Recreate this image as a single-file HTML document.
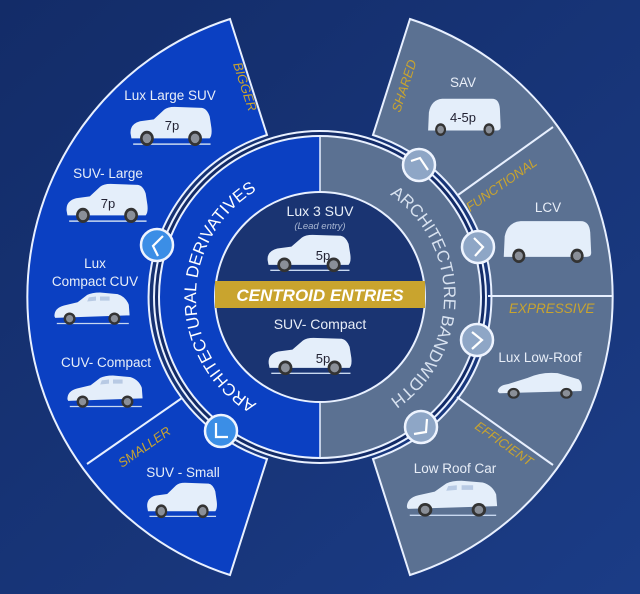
<!DOCTYPE html>
<html><head><meta charset="utf-8"><style>
html,body{margin:0;padding:0;background:#15316f;}
svg{display:block;}
text{font-family:"Liberation Sans",sans-serif;}
</style></head><body>
<svg width="640" height="594" viewBox="0 0 640 594" xmlns="http://www.w3.org/2000/svg">
<defs>
<linearGradient id="bg" x1="0" y1="0" x2="1" y2="1">
<stop offset="0" stop-color="#132c68"/><stop offset="1" stop-color="#1b3c86"/>
</linearGradient>
<symbol id="suv" viewBox="0 0 100 44" preserveAspectRatio="none">
<path d="M3,30 Q2,20 14,17 L30,15 L42,5 Q46,2 54,2 L86,3 Q92,4 95,12 L97,24 Q98,32 95,35 L4,35 Z" fill="#e4eefa"/>
<line x1="6" y1="41" x2="96" y2="41" stroke="#c8d8f0" stroke-width="1.5"/>
<circle cx="22" cy="35" r="8" fill="#333" /><circle cx="22" cy="35" r="5" fill="#8a8f98"/>
<circle cx="78" cy="35" r="8" fill="#333" /><circle cx="78" cy="35" r="5" fill="#8a8f98"/>
</symbol>
<symbol id="hatch" viewBox="0 0 100 44" preserveAspectRatio="none">
<path d="M3,32 Q3,22 15,19 L32,15 L44,6 Q50,3 60,3 L82,5 Q92,8 96,18 L97,31 L4,34 Z" fill="#e4eefa"/>
<path d="M46,9 L55,8 L55,13 L44,14 Z M60,8 L72,8 L72,13 L60,13 Z" fill="#b8cae4"/>
<line x1="6" y1="41" x2="96" y2="41" stroke="#c8d8f0" stroke-width="1.5"/>
<circle cx="22" cy="35" r="7.5" fill="#333" /><circle cx="22" cy="35" r="4.5" fill="#8a8f98"/>
<circle cx="78" cy="35" r="7.5" fill="#333" /><circle cx="78" cy="35" r="4.5" fill="#8a8f98"/>
</symbol>
<symbol id="van" viewBox="0 0 100 44" preserveAspectRatio="none">
<path d="M4,38 L5,18 Q8,4 22,3 L86,3 Q95,3 96,14 L97,34 Q97,38 92,38 Z" fill="#e4eefa"/>
<circle cx="20" cy="37" r="7" fill="#333" /><circle cx="20" cy="37" r="4.3" fill="#8a8f98"/>
<circle cx="82" cy="37" r="7" fill="#333" /><circle cx="82" cy="37" r="4.3" fill="#8a8f98"/>
</symbol>
<symbol id="sedan" viewBox="0 0 100 44" preserveAspectRatio="none">
<path d="M2,32 Q2,24 14,22 L36,14 Q52,6 70,8 L94,16 Q99,22 97,31 L4,34 Z" fill="#e4eefa"/>
<circle cx="20" cy="34" r="7" fill="#333" /><circle cx="20" cy="34" r="4.3" fill="#8a8f98"/>
<circle cx="80" cy="34" r="7" fill="#333" /><circle cx="80" cy="34" r="4.3" fill="#8a8f98"/>
</symbol>
<path id="arcL" d="M320,421 A124,124 0 0 1 320,173"/>
<path id="arcR" d="M320,173 A124,124 0 0 1 320,421"/>
</defs>
<rect width="640" height="594" fill="url(#bg)"/>

<path d="M230,19 A292,292 0 0 0 230,575 L267,459 A170,170 0 0 1 267,135 Z" fill="#0b40c2" stroke="#e8f0ff" stroke-width="2"/>
<path d="M410,19 A292,292 0 0 1 410,575 L373,459 A170,170 0 0 0 373,135 Z" fill="#5b7192" stroke="#e8f0ff" stroke-width="2"/>
<line x1="87" y1="464" x2="182" y2="398" stroke="#e8f0ff" stroke-width="2"/>
<line x1="553" y1="127" x2="458" y2="195" stroke="#e8f0ff" stroke-width="2"/>
<line x1="488" y1="296" x2="612" y2="296" stroke="#e8f0ff" stroke-width="2"/>
<line x1="457" y1="397" x2="553" y2="465" stroke="#e8f0ff" stroke-width="2"/>

<circle cx="320" cy="297" r="166" fill="#122a66" stroke="#e8f0ff" stroke-width="2"/>
<path d="M320,136 A161,161 0 0 0 320,458 Z" fill="#0b40c2"/>
<path d="M320,136 A161,161 0 0 1 320,458 Z" fill="#5b7192"/>
<circle cx="320" cy="297" r="161" fill="none" stroke="#e8f0ff" stroke-width="2"/>
<line x1="320" y1="136" x2="320" y2="458" stroke="#e8f0ff" stroke-width="1.5"/>
<circle cx="320" cy="297" r="105" fill="#1a3472" stroke="#e8f0ff" stroke-width="2"/>

<text font-size="17" fill="#ffffff"><textPath href="#arcL" startOffset="50%" text-anchor="middle">ARCHITECTURAL DERIVATIVES</textPath></text>
<text font-size="17" fill="#d8e2f0"><textPath href="#arcR" startOffset="50%" text-anchor="middle">ARCHITECTURE BANDWIDTH</textPath></text>

<g stroke="#eef4ff" stroke-width="2.5">
<circle cx="157" cy="245" r="16" fill="#3b8ee6"/>
<circle cx="221" cy="431" r="16" fill="#3b8ee6"/>
<circle cx="419" cy="165" r="16" fill="#8ea6c6"/>
<circle cx="478" cy="247" r="16" fill="#8ea6c6"/>
<circle cx="477" cy="340" r="16" fill="#8ea6c6"/>
<circle cx="421" cy="427" r="16" fill="#8ea6c6"/>
</g>
<g stroke="#ffffff" stroke-width="2.2" fill="none">
<polyline points="163,236 153,246 158,256"/>
<polyline points="216,423 216,437 228,437"/>
<polyline points="411,161 420,158 428,170"/>
<polyline points="474,238 483,247 475,256"/>
<polyline points="472,332 482,340 472,349"/>
<polyline points="427,419 426,432 414,434"/>
</g>

<rect x="215" y="281" width="210" height="27" fill="#c9a42e"/>
<text x="320" y="301" font-size="17" font-weight="bold" font-style="italic" fill="#ffffff" text-anchor="middle">CENTROID ENTRIES</text>
<text x="320" y="216" font-size="14" fill="#e8eef8" text-anchor="middle">Lux 3 SUV</text>
<text x="320" y="229" font-size="9.5" font-style="italic" fill="#aab8d4" text-anchor="middle">(Lead entry)</text>
<use href="#suv" x="265" y="233" width="88" height="40"/>
<text x="323" y="260" font-size="13" fill="#223" text-anchor="middle">5p</text>
<text x="320" y="329" font-size="14" fill="#e8eef8" text-anchor="middle">SUV- Compact</text>
<use href="#suv" x="266" y="336" width="88" height="40"/>
<text x="323" y="363" font-size="13" fill="#223" text-anchor="middle">5p</text>

<g font-size="13.5" fill="#e8eef8" text-anchor="middle">
<text x="170" y="100">Lux Large SUV</text>
<text x="108" y="178">SUV- Large</text>
<text x="95" y="268">Lux</text>
<text x="95" y="286">Compact CUV</text>
<text x="106" y="367">CUV- Compact</text>
<text x="183" y="477">SUV - Small</text>
<text x="463" y="87">SAV</text>
<text x="548" y="212">LCV</text>
<text x="540" y="362">Lux Low-Roof</text>
<text x="455" y="473">Low Roof Car</text>
</g>
<use href="#suv" x="128" y="105" width="86" height="42"/>
<text x="172" y="130" font-size="13" fill="#223" text-anchor="middle">7p</text>
<use href="#suv" x="64" y="182" width="86" height="42"/>
<text x="108" y="208" font-size="13" fill="#223" text-anchor="middle">7p</text>
<use href="#hatch" x="52" y="290" width="80" height="36"/>
<use href="#hatch" x="65" y="373" width="80" height="36"/>
<use href="#suv" x="145" y="481" width="74" height="38"/>

<use href="#van" x="425" y="96" width="78" height="40"/>
<text x="463" y="122" font-size="13" fill="#223" text-anchor="middle">4-5p</text>
<use href="#van" x="500" y="218" width="94" height="45"/>
<use href="#sedan" x="496" y="367" width="88" height="34"/>
<use href="#hatch" x="404" y="478" width="96" height="40"/>

<g font-size="13" font-style="italic" fill="#c9a42e">
<text transform="translate(233,64) rotate(72)">BIGGER</text>
<text transform="translate(122,468) rotate(-35)">SMALLER</text>
<text transform="translate(400,113) rotate(-72)">SHARED</text>
<text transform="translate(470,212) rotate(-35)">FUNCTIONAL</text>
<text x="509" y="313" font-size="13.5">EXPRESSIVE</text>
<text transform="translate(474,428) rotate(35)">EFFICIENT</text>
</g>
</svg>
</body></html>
